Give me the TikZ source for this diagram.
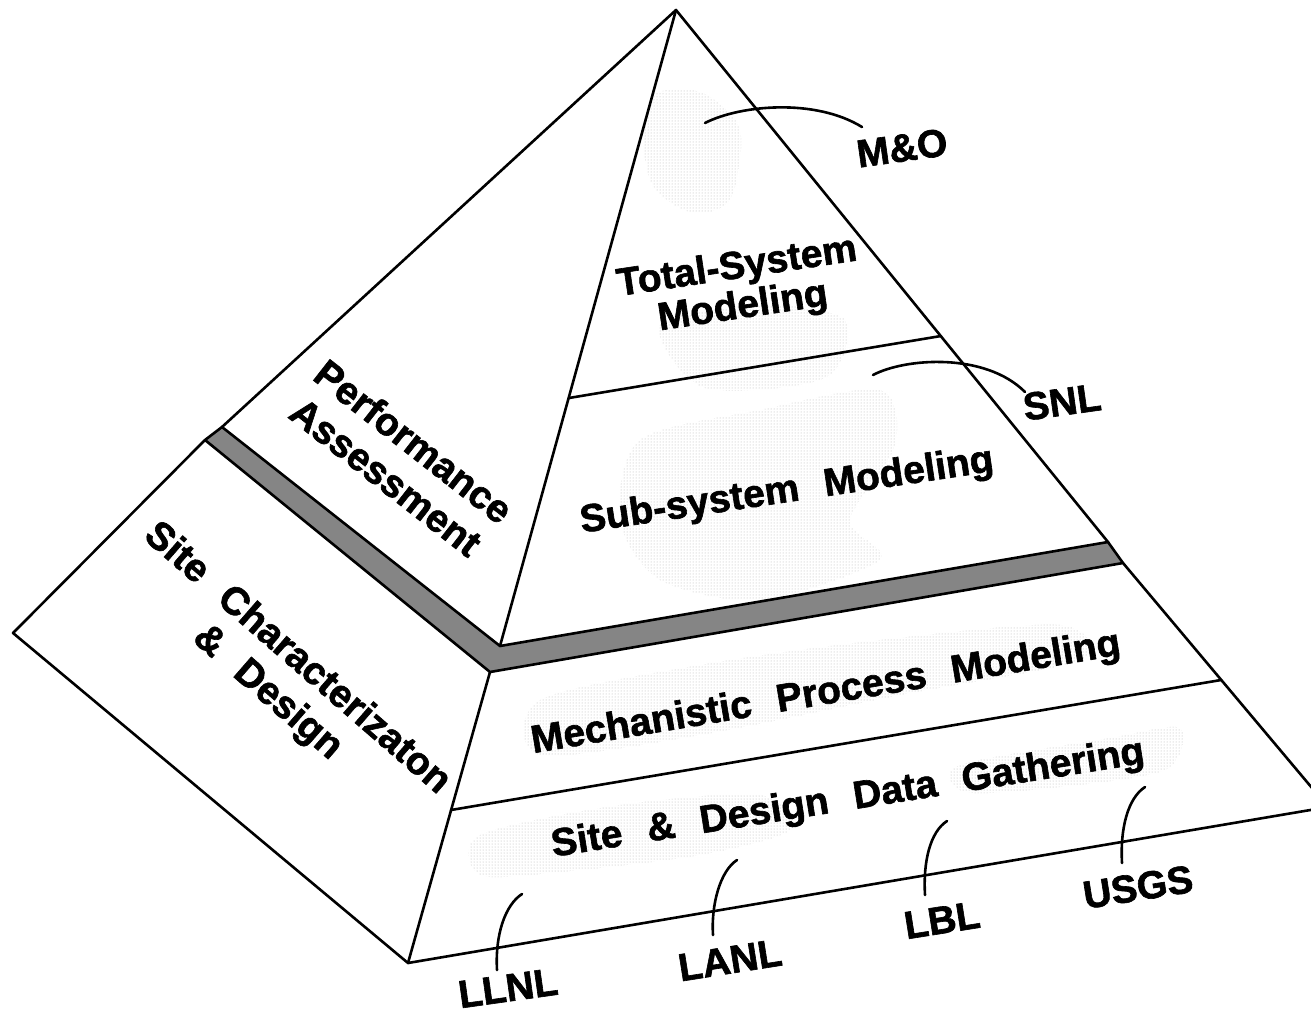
\documentclass[tikz,border=0pt]{standalone}
\usepackage{fontspec}
\setmainfont{Liberation Sans}
\newfontfamily\heavy[FakeBold=1.6]{Liberation Sans Bold}
\usetikzlibrary{patterns}
\newcommand{\wsp}{\hspace{0.65em}}
\begin{document}
\begin{tikzpicture}[x=1pt,y=-1pt,
  edge/.style={line width=2.6pt,line join=round,line cap=round},
  leader/.style={line width=2.6pt,line cap=round},
  lbl/.style={font=\fontsize{39}{40}\selectfont\heavy,inner sep=0pt,align=center},
  tall/.style={font=\fontsize{39}{45}\selectfont\heavy},
  bandfill/.style={fill=black!48},
  stipple/.style={pattern=dots,pattern color=black!30}]
\useasboundingbox (0,0) rectangle (1311,1015);
\clip (0,0) rectangle (1311,1015);

% corners of the upper (performance assessment) block
\coordinate (apex) at (676,10);
\coordinate (ul) at (222,427);
\coordinate (uf) at (500,646);
\coordinate (ur) at (1108,542);
% corners of the lower (site characterization) block
\coordinate (ll) at (205,440);
\coordinate (lf) at (490,672);
\coordinate (lr) at (1123,563);
\coordinate (bl) at (13,633);
\coordinate (bf) at (408,963);
\coordinate (br) at (1328,807);
% layer dividers on the front faces
\coordinate (t1) at (569,398);
\coordinate (t2) at (941,336);
\coordinate (m1) at (451,810);
\coordinate (m2) at (1221,680);

% separating band
\fill[bandfill] (ul)--(uf)--(ur)--(lr)--(lf)--(ll)--cycle;

% light halftone patches on the front faces
\begin{scope}
  \clip (apex)--(uf)--(ur)--cycle;
  \fill[stipple] plot[smooth cycle] coordinates {(645,100) (700,92) (740,130) (730,200) (690,212) (650,180)};
  \fill[stipple] plot[smooth cycle] coordinates {(660,325) (760,305) (845,320) (825,378) (705,388)};
  \fill[stipple] plot[smooth cycle] coordinates {(640,440) (760,410) (880,390) (895,445) (850,520) (880,560) (760,600) (660,580) (620,520)};
\end{scope}
\begin{scope}
  \clip (lf)--(lr)--(br)--(bf)--cycle;
  \fill[stipple] plot[smooth cycle] coordinates {(540,700) (700,665) (880,640) (1060,625) (1080,660) (900,695) (700,735) (540,755)};
  \fill[stipple] plot[smooth cycle] coordinates {(480,835) (620,805) (760,795) (790,830) (700,855) (560,872) (480,875)};
  \fill[stipple] plot[smooth cycle] coordinates {(960,765) (1110,738) (1180,728) (1165,770) (1050,788) (965,792)};
\end{scope}

% outlines
\draw[edge] (apex)--(ul)--(uf)--(ur)--cycle;
\draw[edge] (apex)--(uf);
\draw[edge] (ll)--(lf)--(lr)--(br)--(bf)--(bl)--cycle;
\draw[edge] (lf)--(bf);
\draw[edge] (ul)--(ll);
\draw[edge] (ur)--(lr);
\draw[edge] (t1)--(t2);
\draw[edge] (m1)--(m2);

% face labels
\node[lbl,rotate=8.5] (tsm) at (740,288) {Total-System\\Modeling};
\node[lbl,rotate=8.5] (ssm) at (787,492) {Sub-system\wsp Modeling};
\node[lbl,rotate=9.5] (mpm) at (826,694) {Mechanistic\wsp Process\wsp Modeling};
\node[lbl,rotate=9] (sdd) at (848,800) {Site\wsp \&\wsp Design\wsp Data\wsp Gathering};
\node[lbl,tall,rotate=-38] (pa) at (400,459) {Performance\\Assessment};
\node[lbl,tall,rotate=-41] (scd) at (282,676) {Site\wsp Characterizaton\\\&\wsp Design};

% organisation labels
\node[lbl,rotate=8] (mo) at (902,148) {M\&O};
\node[lbl,rotate=8] (snl) at (1062,402) {SNL};
\node[lbl,rotate=8] (llnl) at (508,988) {LLNL};
\node[lbl,rotate=9] (lanl) at (730,960) {LANL};
\node[lbl,rotate=9] (lbl) at (942,920) {LBL};
\node[lbl,rotate=9] (usgs) at (1138,887) {USGS};

% leader curves
\coordinate (mo-in) at (705,123);
\coordinate (mo-out) at (862,127);
\coordinate (snl-in) at (873,375);
\coordinate (snl-out) at (1025,392);
\coordinate (llnl-in) at (522,894);
\coordinate (llnl-out) at (497,970);
\coordinate (lanl-in) at (737,860);
\coordinate (lanl-out) at (713,935);
\coordinate (lbl-in) at (947,821);
\coordinate (lbl-out) at (925,895);
\coordinate (usgs-in) at (1145,787);
\coordinate (usgs-out) at (1122,863);
\draw[leader] (mo-in) .. controls (740,105) and (815,98) .. (mo-out);
\draw[leader] (snl-in) .. controls (905,358) and (985,352) .. (snl-out);
\draw[leader] (llnl-in) .. controls (505,905) and (495,935) .. (llnl-out);
\draw[leader] (lanl-in) .. controls (720,871) and (711,905) .. (lanl-out);
\draw[leader] (lbl-in) .. controls (930,832) and (923,862) .. (lbl-out);
\draw[leader] (usgs-in) .. controls (1128,798) and (1120,828) .. (usgs-out);
\end{tikzpicture}
\end{document}
